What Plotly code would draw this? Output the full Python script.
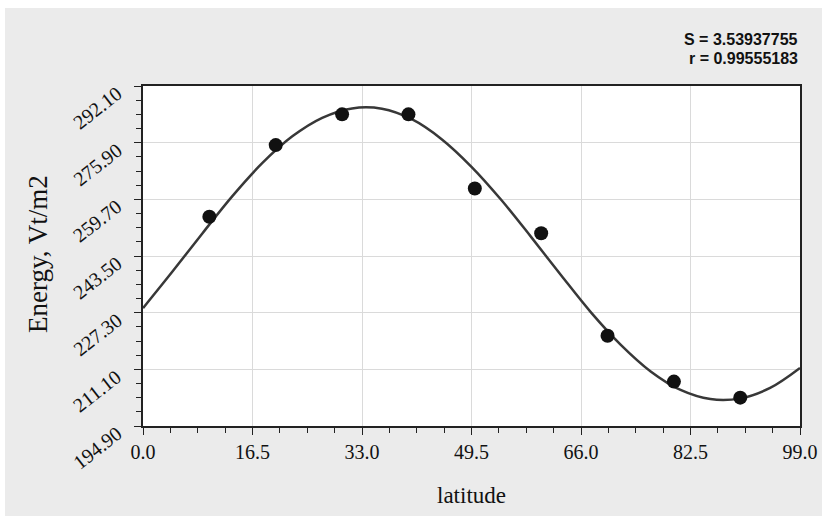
import plotly.graph_objects as go

# Measured energy by latitude
latitude = [10, 20, 30, 40, 50, 60, 70, 80, 90]
energy = [254.7, 275.2, 284.0, 284.0, 262.8, 250.0, 220.7, 207.6, 203.0]

# Fitted curve, sampled every 4.5 degrees
fit_lat = [0, 4.5, 9, 13.5, 18, 22.5, 27, 31.5, 36, 40.5, 45, 49.5,
           54, 58.5, 63, 67.5, 72, 76.5, 81, 85.5, 90, 94.5, 99]
fit_energy = [228.6, 239.2, 250.1, 260.7, 270.1, 277.7, 283.0, 285.7, 285.6,
              282.6, 276.9, 269.0, 259.5, 248.9, 238.0, 227.4, 218.1, 210.5,
              205.2, 202.6, 202.8, 205.8, 211.5]

fit_stats = ["S = 3.53937755", "r = 0.99555183"]

x_ticks = [0.0, 16.5, 33.0, 49.5, 66.0, 82.5, 99.0]
y_ticks = [194.90, 211.10, 227.30, 243.50, 259.70, 275.90, 292.10]

W, H = 822, 516
L, R, T, B = 143, 22, 86, 90
pw, ph = W - L - R, H - T - B

def px_x(p):
    return (p - L) / pw

def px_y(p):
    return (H - B - p) / ph

serif = "Liberation Serif, Times New Roman, serif"
bg = "#ebebeb"
ink = "#111111"

fig = go.Figure()
fig.add_trace(go.Scatter(
    x=fit_lat, y=fit_energy, mode="lines",
    line=dict(color="#383838", width=2.5, shape="spline", smoothing=1.0),
    hoverinfo="skip", showlegend=False,
))
fig.add_trace(go.Scatter(
    x=latitude, y=energy, mode="markers",
    marker=dict(color=ink, size=14),
    showlegend=False,
))

axis_common = dict(
    showline=True, mirror=True, linecolor="#222222", linewidth=1.5,
    showgrid=True, gridcolor="#dadada", gridwidth=1,
    ticks="outside", ticklen=7, tickwidth=1.3, tickcolor="#222222",
    tickfont=dict(family=serif, size=20, color=ink),
    zeroline=False,
)

fig.update_xaxes(
    range=[0, 99], tickvals=x_ticks,
    ticktext=[f"{v:.1f}" for v in x_ticks],
    minor=dict(dtick=4.125, tick0=0, ticks="outside", ticklen=5,
               tickwidth=1.3, tickcolor="#222222", showgrid=False),
    **axis_common,
)
# y tick labels are drawn as slanted annotations below
fig.update_yaxes(
    range=[194.9, 292.1], tickvals=y_ticks, showticklabels=False,
    minor=dict(dtick=4.05, tick0=194.9, ticks="outside", ticklen=5,
               tickwidth=1.3, tickcolor="#222222", showgrid=False),
    **axis_common,
)

annotations = []
for v in y_ticks:
    annotations.append(dict(
        text=f"{v:.2f}", xref="paper", yref="y", x=px_x(97), y=v,
        yshift=-22, xanchor="center", yanchor="middle", textangle=-38,
        showarrow=False, font=dict(family=serif, size=20, color=ink),
    ))

annotations += [
    dict(text="latitude", xref="paper", yref="paper",
         x=px_x(471), y=px_y(495), xanchor="center", yanchor="middle",
         showarrow=False, font=dict(family=serif, size=23, color=ink)),
    dict(text="Energy, Vt/m2", xref="paper", yref="paper", textangle=-90,
         x=px_x(38), y=px_y(254), xanchor="center", yanchor="middle",
         showarrow=False, font=dict(family=serif, size=27, color=ink)),
]
for i, s in enumerate(fit_stats):
    annotations.append(dict(
        text=f"<b>{s}</b>", xref="paper", yref="paper",
        x=px_x(800), y=px_y(39 + 19 * i), xanchor="right", yanchor="middle",
        showarrow=False,
        font=dict(family="Liberation Sans, Arial, sans-serif", size=16,
                  color=ink),
    ))

# white strips along the top and left edges of the page
shapes = [
    dict(type="rect", xref="paper", yref="paper", layer="below",
         x0=px_x(-5), x1=px_x(W + 5), y0=px_y(8), y1=px_y(-5),
         fillcolor="white", line=dict(width=0)),
    dict(type="rect", xref="paper", yref="paper", layer="below",
         x0=px_x(-5), x1=px_x(5), y0=px_y(H + 5), y1=px_y(-5),
         fillcolor="white", line=dict(width=0)),
]

fig.update_layout(
    width=W, height=H,
    margin=dict(l=L, r=R, t=T, b=B, autoexpand=False),
    paper_bgcolor=bg, plot_bgcolor="white",
    annotations=annotations, shapes=shapes,
    showlegend=False,
)

fig.write_html("out.html")
